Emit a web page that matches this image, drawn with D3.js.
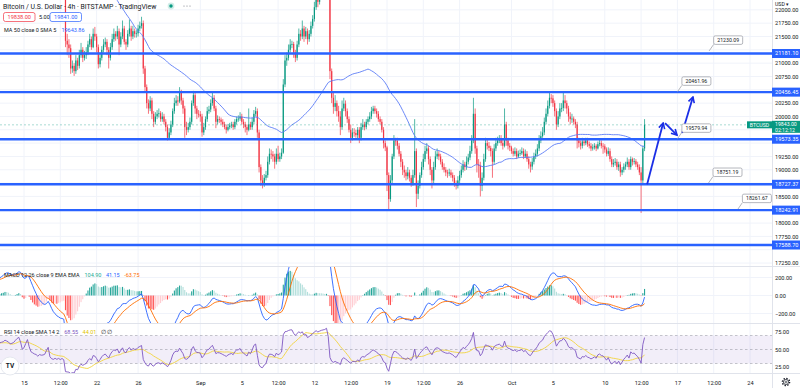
<!DOCTYPE html>
<html>
<head>
<meta charset="utf-8">
<script src="https://cdn.jsdelivr.net/npm/d3@7"></script>
<style>
  body { margin: 0; background: #fff; }
  svg { display: block; font-family: Roboto, "Liberation Sans", sans-serif; }
</style>
</head>
<body>
<svg class="canvas" width="800" height="388"></svg>
<script>
// 4h candles, BTC/USD Bitstamp, starting 8 Aug 2022 00:00 UTC (one row = one day)
const startTime = Date.UTC(2022, 7, 8);
const barHours = 4;
const firstOpen = 23180;

const closes = [
  23300, 23500, 23650, 23900, 24100, 23800,
  23600, 23400, 23300, 23150, 23100, 23150,
  23050, 22900, 22800, 23700, 23900, 23950,
  24300, 24600, 24800, 24400, 24000, 23940,
  23700, 23850, 24050, 24200, 24350, 24400,
  24450, 24600, 24550, 24500, 24400, 24440,
  24500, 24650, 24800, 24900, 24700, 24300,
  24400, 24700, 25050, 24600, 24200, 24100,
  24000, 23950, 23800, 23900, 23850, 23860,
  23900, 24100, 24300, 23600, 23400, 23340,
  23400, 23300, 23350, 23250, 23300, 23200,
  21420, 21350, 21280, 20900, 20950, 20850,
  21050, 20950, 21150, 21250, 21100, 21150,
  21200, 21350, 21450, 21300, 21550, 21500,
  21300, 20980, 21100, 21250, 21350, 21400,
  21250, 21100, 21300, 21450, 21550, 21500,
  21600, 21350, 21500, 21650, 21400, 21350,
  21550, 21650, 21500, 21600, 21550, 21560,
  21650, 21700, 21750, 20900, 20550, 20250,
  20150, 20300, 20050, 19900, 20000, 20050,
  20060, 19950, 20000, 19900, 19800, 19600,
  19700, 19850, 20100, 20250, 20300, 20280,
  20450, 20300, 20150, 19800, 19750, 19800,
  19900, 20250, 20400, 20150, 20050, 20040,
  20000, 19700, 19800, 19950, 20100, 20130,
  20250, 20350, 20150, 19900, 19950, 19940,
  19900, 19850, 19800, 19750, 19800, 19830,
  19850, 19800, 19900, 19950, 19960, 20000,
  19900, 19850, 19800, 19750, 19850, 19800,
  19900, 20050, 20100, 19700, 19050, 18800,
  18750, 18850, 18900, 19150, 19300, 19290,
  19250, 19150, 19300, 19200, 19250, 19320,
  20600, 21050, 21100, 21250, 21350, 21360,
  21200, 21100, 21350, 21550, 21500, 21650,
  21500, 21600, 21450, 21550, 21700, 21830,
  22050, 22200, 22150, 22250, 22350, 22400,
  22450, 22600, 22300, 20850, 20350, 20180,
  20250, 20100, 20000, 19800, 20150, 20240,
  20100, 19950, 19750, 19600, 19700, 19690,
  19650, 19750, 19600, 19800, 19850, 19800,
  19900, 19950, 20000, 20100, 20150, 20100,
  20050, 19950, 19900, 19750, 19500, 19420,
  18900, 18450, 18800, 19250, 19550, 19540,
  19450, 19300, 19150, 19000, 18950, 18880,
  18950, 18850, 18750, 18900, 19350, 18550,
  18700, 18900, 19050, 19200, 19350, 19400,
  19200, 19000, 18800, 19050, 19250, 19300,
  19250, 19150, 19050, 19000, 18950, 18930,
  18950, 18900, 18850, 18750, 18700, 18800,
  18900, 19000, 19100, 19050, 19150, 19230,
  19350, 19550, 20050, 19400, 19100, 19080,
  18700, 18850, 19200, 19500, 19450, 19410,
  19350, 19150, 19400, 19500, 19550, 19590,
  19500, 19450, 19850, 19550, 19450, 19420,
  19350, 19300, 19350, 19250, 19300, 19310,
  19350, 19250, 19300, 19200, 19100, 19060,
  19150, 19250, 19300, 19400, 19550, 19630,
  19700, 19900, 20050, 20200, 20350, 20340,
  20250, 20100, 19850, 20000, 20150, 20160,
  20300, 20250, 20150, 20000, 19950, 19960,
  19900, 19850, 19550, 19500, 19450, 19530,
  19500, 19550, 19480, 19450, 19400, 19420,
  19450, 19400, 19480, 19500, 19450, 19440,
  19380, 19300, 19350, 19200, 19100, 19130,
  19150, 19050, 19100, 18950, 19000, 19060,
  19100, 19150, 19050, 19200, 19150, 19160,
  19100, 19050, 18950, 18800, 19400, 19843
];

const highs = [
  23380, 23560, 23720, 23990, 24240, 24150,
  23850, 23650, 23480, 23380, 23250, 23220,
  23200, 23100, 22980, 23800, 24050, 24100,
  24400, 24700, 24900, 24850, 24450, 24100,
  24000, 23900, 24100, 24300, 24400, 24480,
  24550, 24700, 24680, 24600, 24550, 24520,
  24580, 24700, 24900, 25050, 24950, 24750,
  24500, 24800, 25200, 25100, 24650, 24300,
  24150, 24100, 24000, 24000, 23950, 23920,
  23980, 24200, 24450, 24350, 23650, 23450,
  23500, 23450, 23450, 23400, 23380, 23350,
  23250, 21550, 21450, 21350, 21050, 21000,
  21150, 21100, 21250, 21380, 21300, 21230,
  21300, 21420, 21550, 21500, 21650, 21680,
  21550, 21350, 21200, 21320, 21450, 21480,
  21450, 21300, 21380, 21550, 21650, 21600,
  21700, 21650, 21580, 21800, 21700, 21450,
  21620, 21820, 21700, 21700, 21650, 21620,
  21720, 21780, 21870, 21800, 20950, 20600,
  20320, 20380, 20350, 20100, 20080, 20120,
  20150, 20100, 20080, 20050, 19950, 19850,
  19780, 19920, 20150, 20350, 20400, 20380,
  20550, 20500, 20350, 20200, 19900, 19880,
  19980, 20300, 20480, 20450, 20200, 20120,
  20100, 20050, 19880, 20000, 20180, 20200,
  20320, 20450, 20400, 20200, 20020, 20000,
  19980, 19950, 19900, 19850, 19860, 19880,
  19900, 19900, 19950, 20000, 20020, 20080,
  20050, 19950, 19900, 19850, 20150, 19900,
  19980, 20120, 20180, 20150, 19750, 19100,
  18900, 18920, 18980, 19250, 19400, 19380,
  19350, 19300, 19400, 19450, 19320, 19400,
  20700, 21150, 21200, 21350, 21450, 21420,
  21400, 21250, 21420, 21650, 21620, 21800,
  21700, 21680, 21650, 21620, 21780, 21900,
  22150, 22300, 22280, 22350, 22450, 22480,
  22550, 22750, 22650, 22350, 20900, 20450,
  20400, 20300, 20200, 20100, 20300, 20350,
  20300, 20150, 20000, 19850, 19780, 19780,
  19750, 19800, 19800, 19880, 19950, 19900,
  19950, 20000, 20080, 20180, 20200, 20200,
  20150, 20100, 20000, 19950, 19800, 19550,
  19450, 18950, 18900, 19300, 19650, 19600,
  19600, 19500, 19350, 19200, 19080, 19000,
  19050, 19000, 18900, 19000, 19950, 19400,
  18800, 18950, 19150, 19300, 19450, 19500,
  19450, 19250, 19050, 19150, 19350, 19400,
  19350, 19300, 19200, 19120, 19050, 19000,
  19020, 19000, 18950, 18900, 18800, 18880,
  18980, 19080, 19180, 19150, 19250, 19300,
  19450, 19650, 20350, 20150, 19450, 19200,
  19150, 18950, 19300, 19600, 19580, 19520,
  19450, 19400, 19480, 19600, 19620, 19650,
  19650, 19580, 20150, 19900, 19600, 19500,
  19450, 19400, 19420, 19400, 19360, 19380,
  19420, 19400, 19380, 19350, 19250, 19150,
  19220, 19320, 19380, 19480, 19650, 19720,
  19800, 19980, 20150, 20300, 20450, 20420,
  20400, 20300, 20150, 20100, 20250, 20250,
  20450, 20400, 20300, 20200, 20080, 20050,
  20000, 19950, 19900, 19600, 19550, 19600,
  19580, 19600, 19600, 19530, 19500, 19480,
  19500, 19480, 19530, 19560, 19550, 19500,
  19480, 19420, 19420, 19400, 19250, 19200,
  19220, 19200, 19150, 19150, 19050, 19120,
  19150, 19230, 19200, 19250, 19230, 19220,
  19200, 19150, 19100, 19050, 19450, 19950
];

const lows = [
  23120, 23250, 23450, 23600, 23850, 23720,
  23550, 23350, 23220, 23050, 22950, 23020,
  22980, 22850, 22670, 22750, 23650, 23850,
  23900, 24250, 24550, 24300, 23900, 23850,
  23600, 23650, 23800, 24000, 24150, 24300,
  24350, 24400, 24480, 24420, 24350, 24350,
  24400, 24450, 24600, 24750, 24600, 24200,
  24250, 24350, 24650, 24500, 24100, 23950,
  23900, 23850, 23700, 23750, 23780, 23800,
  23820, 23880, 24050, 23500, 23300, 23250,
  23300, 23250, 23200, 23150, 23200, 23100,
  21300, 21150, 21100, 20800, 20820, 20760,
  20800, 20870, 20900, 21100, 21020, 21050,
  21080, 21150, 21300, 21250, 21280, 21420,
  21200, 20900, 20920, 21050, 21200, 21300,
  21150, 20900, 21050, 21250, 21400, 21420,
  21450, 21150, 21300, 21450, 21350, 21250,
  21300, 21500, 21420, 21450, 21480, 21480,
  21500, 21600, 21650, 20800, 20450, 20150,
  20050, 20100, 19950, 19800, 19850, 19950,
  19980, 19900, 19900, 19850, 19720, 19550,
  19560, 19650, 19800, 20050, 20200, 20200,
  20250, 20220, 20050, 19600, 19650, 19700,
  19750, 19850, 20200, 20050, 19950, 19980,
  19900, 19620, 19650, 19750, 19900, 20050,
  20080, 20200, 20100, 19780, 19850, 19880,
  19850, 19800, 19760, 19680, 19720, 19760,
  19780, 19750, 19760, 19850, 19900, 19920,
  19850, 19780, 19700, 19650, 19720, 19750,
  19750, 19850, 20000, 19600, 18950, 18700,
  18650, 18680, 18800, 18850, 19100, 19200,
  19150, 19020, 19100, 19150, 19150, 19200,
  19300, 20550, 20950, 21050, 21200, 21280,
  21100, 21020, 21050, 21300, 21420, 21450,
  21400, 21450, 21350, 21400, 21500, 21650,
  21780, 22000, 22050, 22100, 22200, 22300,
  22350, 22400, 22200, 20700, 20250, 20050,
  20100, 20000, 19900, 19650, 19750, 20100,
  20000, 19880, 19700, 19500, 19550, 19620,
  19600, 19580, 19500, 19550, 19750, 19740,
  19760, 19850, 19900, 19950, 20050, 20050,
  19980, 19900, 19850, 19700, 19400, 19350,
  18600, 18240, 18400, 18750, 19200, 19450,
  19380, 19250, 19050, 18900, 18850, 18800,
  18820, 18780, 18680, 18700, 18850, 18300,
  18450, 18650, 18850, 19000, 19150, 19300,
  19100, 18900, 18650, 18750, 19000, 19200,
  19180, 19100, 19000, 18950, 18880, 18850,
  18880, 18850, 18780, 18680, 18630, 18650,
  18720, 18850, 18950, 18980, 19000, 19100,
  19180, 19300, 19500, 19300, 18950, 18850,
  18500, 18600, 18800, 19150, 19380, 19350,
  19250, 18850, 19100, 19350, 19450, 19500,
  19450, 19380, 19420, 19450, 19380, 19350,
  19300, 19250, 19260, 19200, 19220, 19260,
  19280, 19200, 19220, 19150, 19020, 18950,
  19000, 19100, 19200, 19250, 19350, 19500,
  19600, 19650, 19850, 20000, 20150, 20250,
  20180, 20000, 19750, 19800, 19950, 20080,
  20100, 20150, 20050, 19900, 19850, 19880,
  19850, 19780, 19400, 19420, 19380, 19400,
  19450, 19460, 19430, 19400, 19350, 19360,
  19380, 19350, 19380, 19440, 19400, 19300,
  19320, 19250, 19260, 19150, 19050, 19050,
  19080, 19000, 18980, 18870, 18900, 18950,
  19000, 19050, 19000, 19000, 19080, 19100,
  19050, 19000, 18900, 18190, 18750, 19350
];

// horizontal levels drawn on the chart
const levels = [21181.10, 20456.45, 19573.35, 18727.37, 18242.91, 17588.70];
// price notes: value and anchor time
const noteValues = [21230.09, 20461.96, 19579.94, 18751.19, 18261.67];
const noteTimes = ["2022-10-20T01:30Z", "2022-10-17T00:00Z", "2022-10-17T00:00Z", "2022-10-20T00:00Z", "2022-10-22T20:00Z"];
// projected path arrows: [time, price] from -> to
const arrowFrom = [["2022-10-14T02:00Z", 18727], ["2022-10-15T19:30Z", 19877], ["2022-10-17T11:00Z", 19690]];
const arrowTo = [["2022-10-15T15:00Z", 19877], ["2022-10-16T23:00Z", 19652], ["2022-10-18T12:00Z", 20365]];

// time axis labels
const timeTicks = ["2022-08-15T00:00Z", "2022-08-18T12:00Z", "2022-08-22T00:00Z", "2022-08-26T00:00Z",
  "2022-09-01T00:00Z", "2022-09-05T00:00Z", "2022-09-08T12:00Z", "2022-09-12T00:00Z", "2022-09-15T12:00Z",
  "2022-09-19T00:00Z", "2022-09-22T12:00Z", "2022-09-26T00:00Z", "2022-10-01T00:00Z", "2022-10-05T00:00Z",
  "2022-10-10T00:00Z", "2022-10-13T12:00Z", "2022-10-17T00:00Z", "2022-10-20T12:00Z", "2022-10-24T00:00Z"];
const timeLabels = ["15", "12:00", "22", "26", "Sep", "5", "12:00", "12", "12:00", "19", "12:00", "26",
  "Oct", "5", "10", "12:00", "17", "12:00", "24"];
const priceTicks = d3.range(17250, 22001, 250);
const macdTicks = [-200, 0, 200];
const rsiTicks = [25, 50, 75];

// legend values as shown on screen
const lastPrice = 19843.00;
const bidAsk = ["19838.00", "5.00", "19841.00"];
const maLegend = "19643.86";
const macdLegend = ["104.90", "41.15", "-63.75"];
const rsiLegend = ["68.55", "44.01", "∅ ∅"];

const svg = d3.select(".canvas");
const plotRight = 772;
const paneMain = [0, 266];
const paneMacd = [267, 323];
const paneRsi = [324, 373];
const red = "#f23645", green = "#089981", blue = "#2962ff", text = "#131722", border = "#e0e3eb";
const fs = 5.6;

const bars = closes.map((c, i) => ({
  time: new Date(startTime + i * barHours * 3600e3),
  open: i === 0 ? firstOpen : closes[i - 1],
  high: highs[i],
  low: lows[i],
  close: c
}));

// indicators computed from the closes
function ema(values, n) {
  const k = 2 / (n + 1);
  let prev;
  return values.map((v, i) => (prev = i === 0 ? v : v * k + prev * (1 - k)));
}
function sma(values, n) {
  return values.map((v, i) => {
    if (i < n - 1) return null;
    const win = values.slice(i - n + 1, i + 1);
    return win.some((w) => w == null) ? null : d3.mean(win);
  });
}
function rsi(values, n) {
  const out = values.map(() => null);
  let up = 0, dn = 0;
  for (let i = 1; i < values.length; i++) {
    const ch = values[i] - values[i - 1];
    const u = Math.max(ch, 0), d = Math.max(-ch, 0);
    if (i <= n) {
      up += u / n; dn += d / n;
      if (i < n) continue;
    } else {
      up = (up * (n - 1) + u) / n;
      dn = (dn * (n - 1) + d) / n;
    }
    out[i] = dn === 0 ? 100 : 100 - 100 / (1 + up / dn);
  }
  return out;
}
const ma50 = sma(closes, 50);
const ema12 = ema(closes, 12), ema26 = ema(closes, 26);
const macd = closes.map((c, i) => ema12[i] - ema26[i]);
const signal = ema(macd, 9);
const hist = macd.map((m, i) => m - signal[i]);
const rsiVals = rsi(closes, 14);
const rsiMa = sma(rsiVals, 14);

// scales
const xScale = d3.scaleUtc()
  .domain([new Date(Date.UTC(2022, 7, 15)), new Date(Date.UTC(2022, 9, 24))])
  .range([24, 750]);
const yScale = d3.scaleLinear().domain([17588.70, 21181.10]).range([245, 53.5]);
const macdScale = d3.scaleLinear().domain([-200, 200]).range([313.5, 277.5]);
const rsiScale = d3.scaleLinear().domain([25, 75]).range([367, 332]);

// clip paths
const defs = svg.append("defs");
[["clipMain", paneMain], ["clipMacd", paneMacd], ["clipRsi", paneRsi]].forEach(([id, p]) => {
  defs.append("clipPath").attr("id", id).append("rect")
    .attr("x", 0).attr("y", p[0]).attr("width", plotRight).attr("height", p[1] - p[0]);
});
defs.append("marker").attr("id", "arrowHead")
  .attr("viewBox", "0 0 8 8").attr("refX", 6.5).attr("refY", 4)
  .attr("markerWidth", 8).attr("markerHeight", 8).attr("markerUnits", "userSpaceOnUse")
  .attr("orient", "auto")
  .append("path").attr("d", "M1,1 L6.5,4 L1,7")
  .attr("fill", "none").attr("stroke", "#1a2ee6").attr("stroke-width", 1.6);

// grid
const grid = svg.append("g");
grid.selectAll("line.v").data(timeTicks).join("line")
  .attr("x1", (d) => xScale(new Date(d))).attr("x2", (d) => xScale(new Date(d)))
  .attr("y1", 0).attr("y2", paneRsi[1])
  .attr("stroke", "#f0f3fa").attr("stroke-width", 1);
grid.selectAll("line.h").data(priceTicks).join("line")
  .attr("x1", 0).attr("x2", plotRight)
  .attr("y1", (d) => yScale(d)).attr("y2", (d) => yScale(d))
  .attr("stroke", "#f0f3fa");
grid.selectAll("line.hm").data(macdTicks).join("line")
  .attr("x1", 0).attr("x2", plotRight)
  .attr("y1", (d) => macdScale(d)).attr("y2", (d) => macdScale(d))
  .attr("stroke", "#f0f3fa");

// main pane
const mainG = svg.append("g").attr("clip-path", "url(#clipMain)");
const candles = mainG.append("g");
candles.selectAll("line").data(bars).join("line")
  .attr("x1", (d) => xScale(d.time)).attr("x2", (d) => xScale(d.time))
  .attr("y1", (d) => yScale(d.high)).attr("y2", (d) => yScale(d.low))
  .attr("stroke", (d) => (d.close >= d.open ? green : red))
  .attr("stroke-width", 0.7);
candles.selectAll("rect").data(bars).join("rect")
  .attr("x", (d) => xScale(d.time) - 0.6)
  .attr("width", 1.2)
  .attr("y", (d) => yScale(Math.max(d.open, d.close)))
  .attr("height", (d) => Math.max(0.8, Math.abs(yScale(d.open) - yScale(d.close))))
  .attr("fill", (d) => (d.close >= d.open ? green : red));

mainG.append("path")
  .datum(bars.map((b, i) => ({ time: b.time, v: ma50[i] })))
  .attr("fill", "none").attr("stroke", "#5b7cf6").attr("stroke-width", 0.9)
  .attr("d", d3.line().defined((d) => d.v != null).x((d) => xScale(d.time)).y((d) => yScale(d.v)));

// last price line
mainG.append("line")
  .attr("x1", 0).attr("x2", plotRight)
  .attr("y1", yScale(lastPrice)).attr("y2", yScale(lastPrice))
  .attr("stroke", green).attr("stroke-opacity", 0.5)
  .attr("stroke-width", 0.7).attr("stroke-dasharray", "2,2");

// level lines
mainG.selectAll("line.level").data(levels).join("line")
  .attr("x1", 0).attr("x2", plotRight)
  .attr("y1", (d) => yScale(d)).attr("y2", (d) => yScale(d))
  .attr("stroke", blue).attr("stroke-width", 2.4);

// arrows
mainG.selectAll("line.arrow").data(arrowFrom).join("line")
  .attr("x1", (d) => xScale(new Date(d[0]))).attr("y1", (d) => yScale(d[1]))
  .attr("x2", (d, i) => xScale(new Date(arrowTo[i][0]))).attr("y2", (d, i) => yScale(arrowTo[i][1]))
  .attr("stroke", "#1a2ee6").attr("stroke-width", 1.8)
  .attr("marker-end", "url(#arrowHead)");

// price notes
const notes = svg.append("g").selectAll("g").data(noteValues).join("g")
  .attr("transform", (d, i) => `translate(${xScale(new Date(noteTimes[i]))},${yScale(d)})`);
notes.append("line")
  .attr("x1", 0).attr("y1", 0).attr("x2", 4.5).attr("y2", -6.5)
  .attr("stroke", "#9598a1").attr("stroke-width", 0.7);
notes.append("rect")
  .attr("x", 4.5).attr("y", -15).attr("width", 29).attr("height", 8.5).attr("rx", 1.5)
  .attr("fill", "#fff").attr("stroke", "#9598a1").attr("stroke-width", 0.7);
notes.append("text")
  .attr("x", 19).attr("y", -10.7).attr("text-anchor", "middle").attr("dominant-baseline", "central")
  .attr("font-size", 5.2).attr("fill", text)
  .text((d) => d3.format(".2f")(d));

// MACD pane
const macdG = svg.append("g").attr("clip-path", "url(#clipMacd)");
macdG.selectAll("rect").data(bars).join("rect")
  .attr("x", (d) => xScale(d.time) - 0.55).attr("width", 1.1)
  .attr("y", (d, i) => macdScale(Math.max(0, hist[i])))
  .attr("height", (d, i) => Math.abs(macdScale(hist[i]) - macdScale(0)))
  .attr("fill", (d, i) => {
    const h = hist[i], p = i > 0 ? hist[i - 1] : h;
    if (h >= 0) return h >= p ? "#26a69a" : "#b2dfdb";
    return h < p ? "#ff5252" : "#ffcdd2";
  });
const macdLine = (vals) => d3.line().x((d) => xScale(d.time)).y((d, i) => macdScale(vals[i]));
macdG.append("path").datum(bars).attr("fill", "none").attr("stroke", blue).attr("stroke-width", 0.9)
  .attr("d", macdLine(macd));
macdG.append("path").datum(bars).attr("fill", "none").attr("stroke", "#ff6d00").attr("stroke-width", 0.9)
  .attr("d", macdLine(signal));

// RSI pane
const rsiG = svg.append("g").attr("clip-path", "url(#clipRsi)");
rsiG.append("rect")
  .attr("x", 0).attr("width", plotRight)
  .attr("y", rsiScale(70)).attr("height", rsiScale(30) - rsiScale(70))
  .attr("fill", "#7e57c2").attr("fill-opacity", 0.1);
rsiG.selectAll("line.band").data([70, 50, 30]).join("line")
  .attr("x1", 0).attr("x2", plotRight)
  .attr("y1", (d) => rsiScale(d)).attr("y2", (d) => rsiScale(d))
  .attr("stroke", "#787b86").attr("stroke-opacity", 0.6)
  .attr("stroke-width", 0.7).attr("stroke-dasharray", "2.5,2.5");
const rsiLine = (vals) => d3.line().defined((d, i) => vals[i] != null)
  .x((d) => xScale(d.time)).y((d, i) => rsiScale(vals[i]));
rsiG.append("path").datum(bars).attr("fill", "none").attr("stroke", "#f2d43c").attr("stroke-width", 0.9)
  .attr("d", rsiLine(rsiMa));
rsiG.append("path").datum(bars).attr("fill", "none").attr("stroke", "#7e57c2").attr("stroke-width", 0.9)
  .attr("d", rsiLine(rsiVals));

// pane borders
const borders = svg.append("g").attr("stroke", border).attr("stroke-width", 1);
[266.5, 323.5, 373.5].forEach((y) => borders.append("line").attr("x1", 0).attr("x2", 800).attr("y1", y).attr("y2", y));
borders.append("line").attr("x1", plotRight + 0.5).attr("x2", plotRight + 0.5).attr("y1", 0).attr("y2", 388);

// axes; price labels hidden where a level or last-price tag sits
function styleAxis(g) {
  g.select(".domain").remove();
  g.selectAll("text").attr("font-size", fs).attr("fill", text).attr("font-family", "Roboto, sans-serif");
}
const tagYs = levels.map((l) => yScale(l)).concat([yScale(lastPrice) + 2]);
const shownPriceTicks = priceTicks.filter((t) => tagYs.every((y) => Math.abs(yScale(t) - y) > 8));
svg.append("g").attr("transform", `translate(${plotRight},0)`)
  .call(d3.axisRight(yScale).tickValues(shownPriceTicks).tickFormat(d3.format(".2f")).tickSize(0).tickPadding(3))
  .call(styleAxis);
svg.append("g").attr("transform", `translate(${plotRight},0)`)
  .call(d3.axisRight(macdScale).tickValues(macdTicks).tickFormat(d3.format(".2f")).tickSize(0).tickPadding(3))
  .call(styleAxis);
svg.append("g").attr("transform", `translate(${plotRight},0)`)
  .call(d3.axisRight(rsiScale).tickValues(rsiTicks).tickFormat(d3.format(".2f")).tickSize(0).tickPadding(3))
  .call(styleAxis);
svg.append("g").attr("transform", "translate(0,373)")
  .call(d3.axisBottom(xScale).tickValues(timeTicks.map((t) => new Date(t)))
    .tickFormat((d, i) => timeLabels[i]).tickSize(0).tickPadding(8))
  .call(styleAxis);

// level labels on the price scale
const lvl = svg.append("g").selectAll("g").data(levels).join("g")
  .attr("transform", (d) => `translate(${plotRight},${yScale(d)})`);
lvl.append("rect").attr("x", 0).attr("y", -4.5).attr("width", 28).attr("height", 9).attr("fill", blue);
lvl.append("text").attr("x", 3).attr("dy", "0.35em").attr("font-size", fs).attr("fill", "#fff")
  .text((d) => d3.format(".2f")(d));

// last price labels
const ly = yScale(lastPrice);
svg.append("rect").attr("x", 747).attr("y", ly - 3.5).attr("width", 25).attr("height", 7).attr("fill", green);
svg.append("text").attr("x", 759.5).attr("y", ly).attr("dy", "0.35em").attr("text-anchor", "middle")
  .attr("font-size", 5.2).attr("fill", "#fff").text("BTCUSD");
svg.append("rect").attr("x", plotRight).attr("y", ly - 4).attr("width", 28).attr("height", 12).attr("fill", green);
svg.append("text").attr("x", plotRight + 3).attr("y", ly - 0.3).attr("dy", "0.35em")
  .attr("font-size", 5.2).attr("fill", "#fff").text(d3.format(".2f")(lastPrice));
svg.append("text").attr("x", plotRight + 3).attr("y", ly + 5).attr("dy", "0.35em")
  .attr("font-size", 5.2).attr("fill", "#fff").text("02:12:12");

// legend row: label then coloured values, spaced by measured width
function legendRow(x, y, size, items) {
  let cx = x;
  items.forEach(([str, color], i) => {
    const t = svg.append("text").attr("x", cx).attr("y", y).attr("font-size", size).attr("fill", color).text(str);
    cx += t.node().getComputedTextLength() + (i === 0 ? 5 : 4.5);
  });
}

// header
const header = svg.append("g").attr("fill", text);
header.append("text").attr("x", 3).attr("y", 8.5).attr("font-size", 6.9)
  .text("Bitcoin / U.S. Dollar · 4h · BITSTAMP · TradingView");
header.append("circle").attr("cx", 171).attr("cy", 6).attr("r", 3.4).attr("fill", green).attr("fill-opacity", 0.18);
header.append("circle").attr("cx", 171).attr("cy", 6).attr("r", 1.7).attr("fill", green);
[184, 187, 190].forEach((x) => header.append("circle").attr("cx", x).attr("cy", 6).attr("r", 0.6).attr("fill", "#787b86"));
header.append("rect").attr("x", 3.5).attr("y", 12.5).attr("width", 31.5).attr("height", 9).attr("rx", 2)
  .attr("fill", "#fff").attr("stroke", red).attr("stroke-width", 0.7);
header.append("text").attr("x", 19.25).attr("y", 17).attr("dy", "0.35em").attr("text-anchor", "middle")
  .attr("font-size", fs).attr("fill", red).text(bidAsk[0]);
header.append("text").attr("x", 39).attr("y", 17).attr("dy", "0.35em").attr("font-size", fs).text(bidAsk[1]);
header.append("rect").attr("x", 50).attr("y", 12.5).attr("width", 31.5).attr("height", 9).attr("rx", 2)
  .attr("fill", "#fff").attr("stroke", blue).attr("stroke-width", 0.7);
header.append("text").attr("x", 65.75).attr("y", 17).attr("dy", "0.35em").attr("text-anchor", "middle")
  .attr("font-size", fs).attr("fill", blue).text(bidAsk[2]);
legendRow(4, 31.5, 5.5, [["MA 50 close 0 SMA 5", text], [maLegend, blue]]);
svg.append("text").attr("x", 775).attr("y", 6).attr("font-size", 5.2).attr("fill", text).text("USD ▾");

// MACD and RSI legends
legendRow(4, 277, 5.5, [["MACD 12 26 close 9 EMA EMA", text], [macdLegend[0], "#22ab94"],
  [macdLegend[1], blue], [macdLegend[2], "#ff6d00"]]);
legendRow(4, 334, 5.5, [["RSI 14 close SMA 14 2", text], [rsiLegend[0], "#7e57c2"],
  [rsiLegend[1], "#e2c400"], [rsiLegend[2], text]]);

// TradingView badge and settings gear
svg.append("circle").attr("cx", 10).attr("cy", 366).attr("r", 9)
  .attr("fill", "#fff").attr("stroke", border).attr("stroke-width", 0.8);
svg.append("text").attr("x", 10).attr("y", 366).attr("dy", "0.35em").attr("text-anchor", "middle")
  .attr("font-size", 6.5).attr("font-weight", "bold").attr("fill", text).text("TV");
svg.append("circle").attr("cx", 786).attr("cy", 382).attr("r", 3.6)
  .attr("fill", "none").attr("stroke", text).attr("stroke-width", 1.4).attr("stroke-dasharray", "1.4,1.4");
svg.append("circle").attr("cx", 786).attr("cy", 382).attr("r", 2.6)
  .attr("fill", "#fff").attr("stroke", text).attr("stroke-width", 0.7);
svg.append("circle").attr("cx", 786).attr("cy", 382).attr("r", 1).attr("fill", "none").attr("stroke", text).attr("stroke-width", 0.6);
</script>
</body>
</html>
